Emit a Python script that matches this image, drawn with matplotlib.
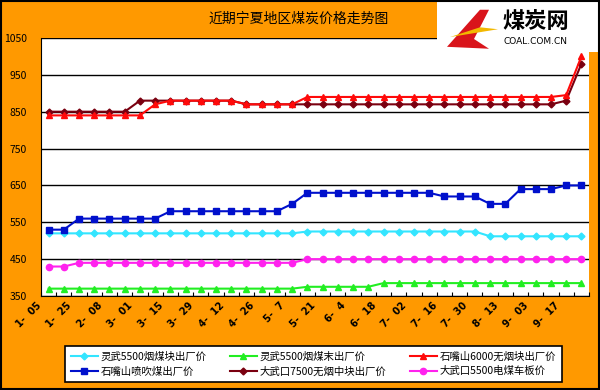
import matplotlib.pyplot as plt
import numpy as np
from matplotlib.patches import Rectangle, Polygon

plt.rcParams['font.family'] = ['Noto Sans CJK SC', 'DejaVu Sans']

title = "近期宁夏地区煤炭价格走势图"

# every other category is labelled
date_labels = ["1-05", "1-25", "2-08", "3-01", "3-15", "3-29", "4-12", "4-26", "5-7",
               "5-21", "6-4", "6-18", "7-02", "7-16", "7-30", "8-13", "9-03", "9-17"]

lw_kuai = [520] * 17 + [525] * 12 + [512] * 7          # 灵武5500烟煤块出厂价
lw_mo = [370] * 17 + [375] * 5 + [385] * 14            # 灵武5500烟煤末出厂价
szs_6000 = [840] * 7 + [870] + [880] * 5 + [870] * 4 + [890] * 17 + [895, 1000]  # 石嘴山6000无烟块出厂价
szs_pc = [530] * 2 + [560] * 6 + [580] * 8 + [600] + [630] * 9 + [620] * 3 + [600] * 2 + [640] * 3 + [650] * 2  # 石嘴山喷吹煤出厂价
dwk_7500 = [850] * 6 + [880] * 7 + [870] * 21 + [880, 980]  # 大武口7500无烟中块出厂价
dwk_5500 = [430] * 2 + [440] * 15 + [450] * 19          # 大武口5500电煤车板价

series = [
    ("灵武5500烟煤块出厂价", lw_kuai, "#33e5ff", "D", 3.5),
    ("石嘴山喷吹煤出厂价", szs_pc, "#0010cc", "s", 5),
    ("灵武5500烟煤末出厂价", lw_mo, "#22ee22", "^", 5),
    ("大武口7500无烟中块出厂价", dwk_7500, "#7a0010", "D", 3.5),
    ("石嘴山6000无烟块出厂价", szs_6000, "#ff0a0a", "^", 5),
    ("大武口5500电煤车板价", dwk_5500, "#ff22ee", "o", 4.5),
]

orange = "#ff9900"
fig = plt.figure(figsize=(6, 3.9), dpi=100, facecolor=orange)
ax = fig.add_axes([0.0683, 0.241, 0.9134, 0.6616])
ax.set_facecolor("white")

x = np.arange(len(lw_kuai))
for name, vals, col, mk, ms in series:
    ax.plot(x, vals, color=col, marker=mk, markersize=ms, linewidth=1.5,
            label=name, zorder=3)

ax.set_xlim(-0.5, len(x) - 0.5)
ax.set_ylim(350, 1050)
ax.set_yticks(np.arange(350, 1051, 100))
ax.yaxis.grid(True, color="black", linewidth=1)
ax.set_axisbelow(True)
ax.tick_params(axis="y", labelsize=7.5, length=0, pad=10)

# category boundary ticks
ax.set_xticks(np.arange(-0.5, len(x), 1))
ax.set_xticklabels([])
ax.tick_params(axis="x", direction="in", length=3, color="black")
for i, lab in enumerate(date_labels):
    ax.text(2 * i - 0.35, 338, lab.replace("-", "-  "), rotation=45, ha="right", va="top",
            fontsize=7, fontweight="bold", family="DejaVu Sans")

for side in ["top", "right"]:
    ax.spines[side].set_visible(False)
ax.spines["left"].set_color("black")
ax.spines["bottom"].set_color("black")

leg = ax.legend(loc="center", bbox_to_anchor=(0.5225, 0.0667), bbox_transform=fig.transFigure,
                ncol=3, fontsize=7.5, frameon=True, fancybox=False, edgecolor="black",
                framealpha=1, handlelength=2.6, columnspacing=2.2, borderpad=0.5,
                labelspacing=0.4, handletextpad=0.3)
leg.get_frame().set_linewidth(1.2)

# title box and logo area
fig.text(0.498, 0.953, title, ha="center", va="center", fontsize=10)
fig.patches.append(Rectangle((0.728, 0.867), 0.272, 0.133, transform=fig.transFigure,
                             facecolor="white", edgecolor="none", zorder=5))
fig.patches.append(Polygon([(0.745, 0.88), (0.80, 0.975), (0.815, 0.975), (0.79, 0.90),
                            (0.815, 0.875)], closed=True, transform=fig.transFigure,
                           facecolor="#d9141b", edgecolor="none", zorder=6))
fig.patches.append(Polygon([(0.75, 0.905), (0.80, 0.93), (0.83, 0.925), (0.79, 0.915)],
                           closed=True, transform=fig.transFigure,
                           facecolor="#f2b800", edgecolor="none", zorder=6))
fig.text(0.893, 0.945, "煤炭网", ha="center", va="center", fontsize=16,
         fontweight="bold", color="black", zorder=7)
fig.text(0.893, 0.893, "COAL.COM.CN", ha="center", va="center", fontsize=6.5,
         color="black", zorder=7, family="DejaVu Sans")

fig.patches.append(Rectangle((0.002, 0.002), 0.996, 0.996, transform=fig.transFigure,
                             facecolor="none", edgecolor="black", linewidth=1.5, zorder=8))

fig.savefig("out.png", dpi=100, facecolor=orange)
